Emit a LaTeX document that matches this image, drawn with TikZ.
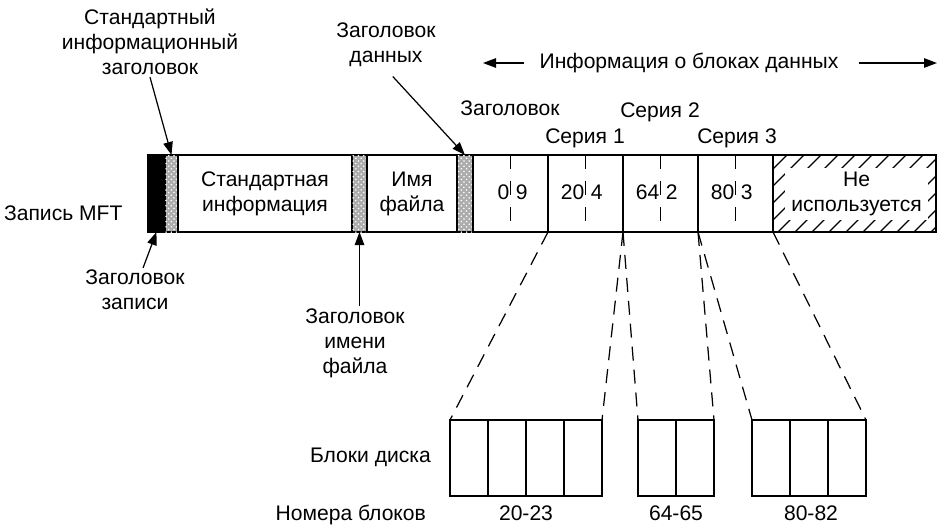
\documentclass[tikz,border=0pt]{standalone}
\usepackage{fontspec}
\setmainfont{Liberation Sans}
\usepackage{tikz}
\usetikzlibrary{arrows.meta,patterns}
\newcommand{\pxu}{0.2mm}

\begin{document}
\begin{tikzpicture}[x=\pxu, y=-\pxu, font=\fontsize{12}{14.3}\selectfont,
  seg/.style={draw, line width=1pt, minimum height=77*\pxu, inner sep=0pt,
              outer sep=0pt, anchor=west, align=center},
  dotseg/.style={seg, fill=gray!65,
                 postaction={pattern=crosshatch dots, pattern color=white}},
  run/.style={seg, minimum width=75*\pxu},
  blk/.style={draw, line width=0.9pt, minimum width=38*\pxu, outer sep=0pt,
              minimum height=76*\pxu, anchor=north west, inner sep=0pt},
  lbl/.style={align=center, inner sep=1pt},
  arr/.style={-{Triangle[length=2.6mm,width=1.9mm]}, line width=0.7pt},
  zoomln/.style={dash pattern=on 2.8mm off 1.8mm, line width=0.7pt},
]
\useasboundingbox (0,0) rectangle (942,530);

%% ---- MFT record bar ----
\node[seg, fill=black, minimum width=17*\pxu] (hdr) at (148,193.5) {};
\node[dotseg, minimum width=13*\pxu] (sih) at (hdr.east) {};
\node[seg, minimum width=174*\pxu] (si) at (sih.east) {Стандартная\\информация};
\node[dotseg, minimum width=15*\pxu] (fnh) at (si.east) {};
\node[seg, minimum width=90*\pxu] (fn) at (fnh.east) {Имя\\файла};
\node[dotseg, minimum width=16*\pxu] (dh) at (fn.east) {};
\node[run] (run0) at (dh.east) {};
\foreach \i [count=\j from 0] in {1,2,3} \node[run] (run\i) at (run\j.east) {};
\node[seg, minimum width=163*\pxu,
      path picture={\foreach \k in {0,...,15}
        \draw[line width=0.7pt] ([xshift=\k*17*\pxu-80*\pxu]path picture bounding box.south west)
          -- ++(80*\pxu,80*\pxu);}] (unused) at (run3.east) {};
\node[fill=white, inner sep=0pt, minimum width=143*\pxu, minimum height=52*\pxu,
      align=center] (unusedlbl) at (856.5,194) {Не\\используется};
\foreach \i/\a/\b in {0/0/9,1/20/4,2/64/2,3/80/3} {
  \draw[line width=0.7pt, dash pattern=on 2.8mm off 2.4mm] (run\i.north) -- (run\i.south);
  \node[inner sep=0.5pt, anchor=east] (l\i) at ([yshift=0.3mm]run\i.center) {\a};
  \node[inner sep=0pt, anchor=west] (r\i) at ([xshift=1mm,yshift=0.3mm]run\i.center) {\b};
}

%% ---- labels round the bar ----
\node[lbl, anchor=west] (mft) at (2,213) {Запись MFT};
\node[lbl] (stdhdr) at (150,42) {Стандартный\\информационный\\заголовок};
\draw[arr] (stdhdr.south) -- (sih.north);
\node[lbl] (datahdr) at (386,45) {Заголовок\\данных};
\draw[arr, shorten <=2mm] (datahdr.south) -- (dh.north);
\node[lbl] (rechdr) at (135,290) {Заголовок\\записи};
\draw[arr] (rechdr.70) -- (hdr.south);
\node[lbl] (fnhdr) at (355,343) {Заголовок\\имени\\файла};
\draw[arr] (fnh.south |- fnhdr.north) -- (fnh.south);
\node[lbl] (hdrlbl) at (510,108) {Заголовок};
\node[lbl] (ser1) at (585,138) {Серия 1};
\node[lbl] (ser2) at (660,112) {Серия 2};
\node[lbl] (ser3) at (737,138) {Серия 3};
\node[lbl, inner xsep=3mm] (info) at (689,63) {Информация о блоках данных};
\coordinate (infoL) at (483,63);
\coordinate (infoR) at (937,63);
\draw[arr] (info.west) -- (infoL);
\draw[arr] ([xshift=1mm]info.east) -- (infoR);

%% ---- disk blocks ----
\foreach \i in {0,...,3} \node[blk] (a\i) at (450+38*\i,420) {};
\foreach \i in {0,1} \node[blk] (b\i) at (638+38*\i,420) {};
\foreach \i in {0,1,2} \node[blk] (c\i) at (752+38*\i,420) {};
\draw[zoomln] (run1.south west) -- (a0.north west);
\draw[zoomln] (run1.south east) -- (a3.north east);
\draw[zoomln] (run2.south west) -- (b0.north west);
\draw[zoomln] (run2.south east) -- (b1.north east);
\draw[zoomln] (run3.south west) -- (c0.north west);
\draw[zoomln] (run3.south east) -- (c2.north east);

\node[lbl, anchor=east] (disk) at (433,457) {Блоки диска};
\node[lbl, anchor=east] (nums) at (428,515) {Номера блоков};
\node[lbl] (na) at (526,513) {20-23};
\node[lbl] (nb) at (676,513) {64-65};
\node[lbl] (nc) at (811,513) {80-82};
\end{tikzpicture}
\end{document}
